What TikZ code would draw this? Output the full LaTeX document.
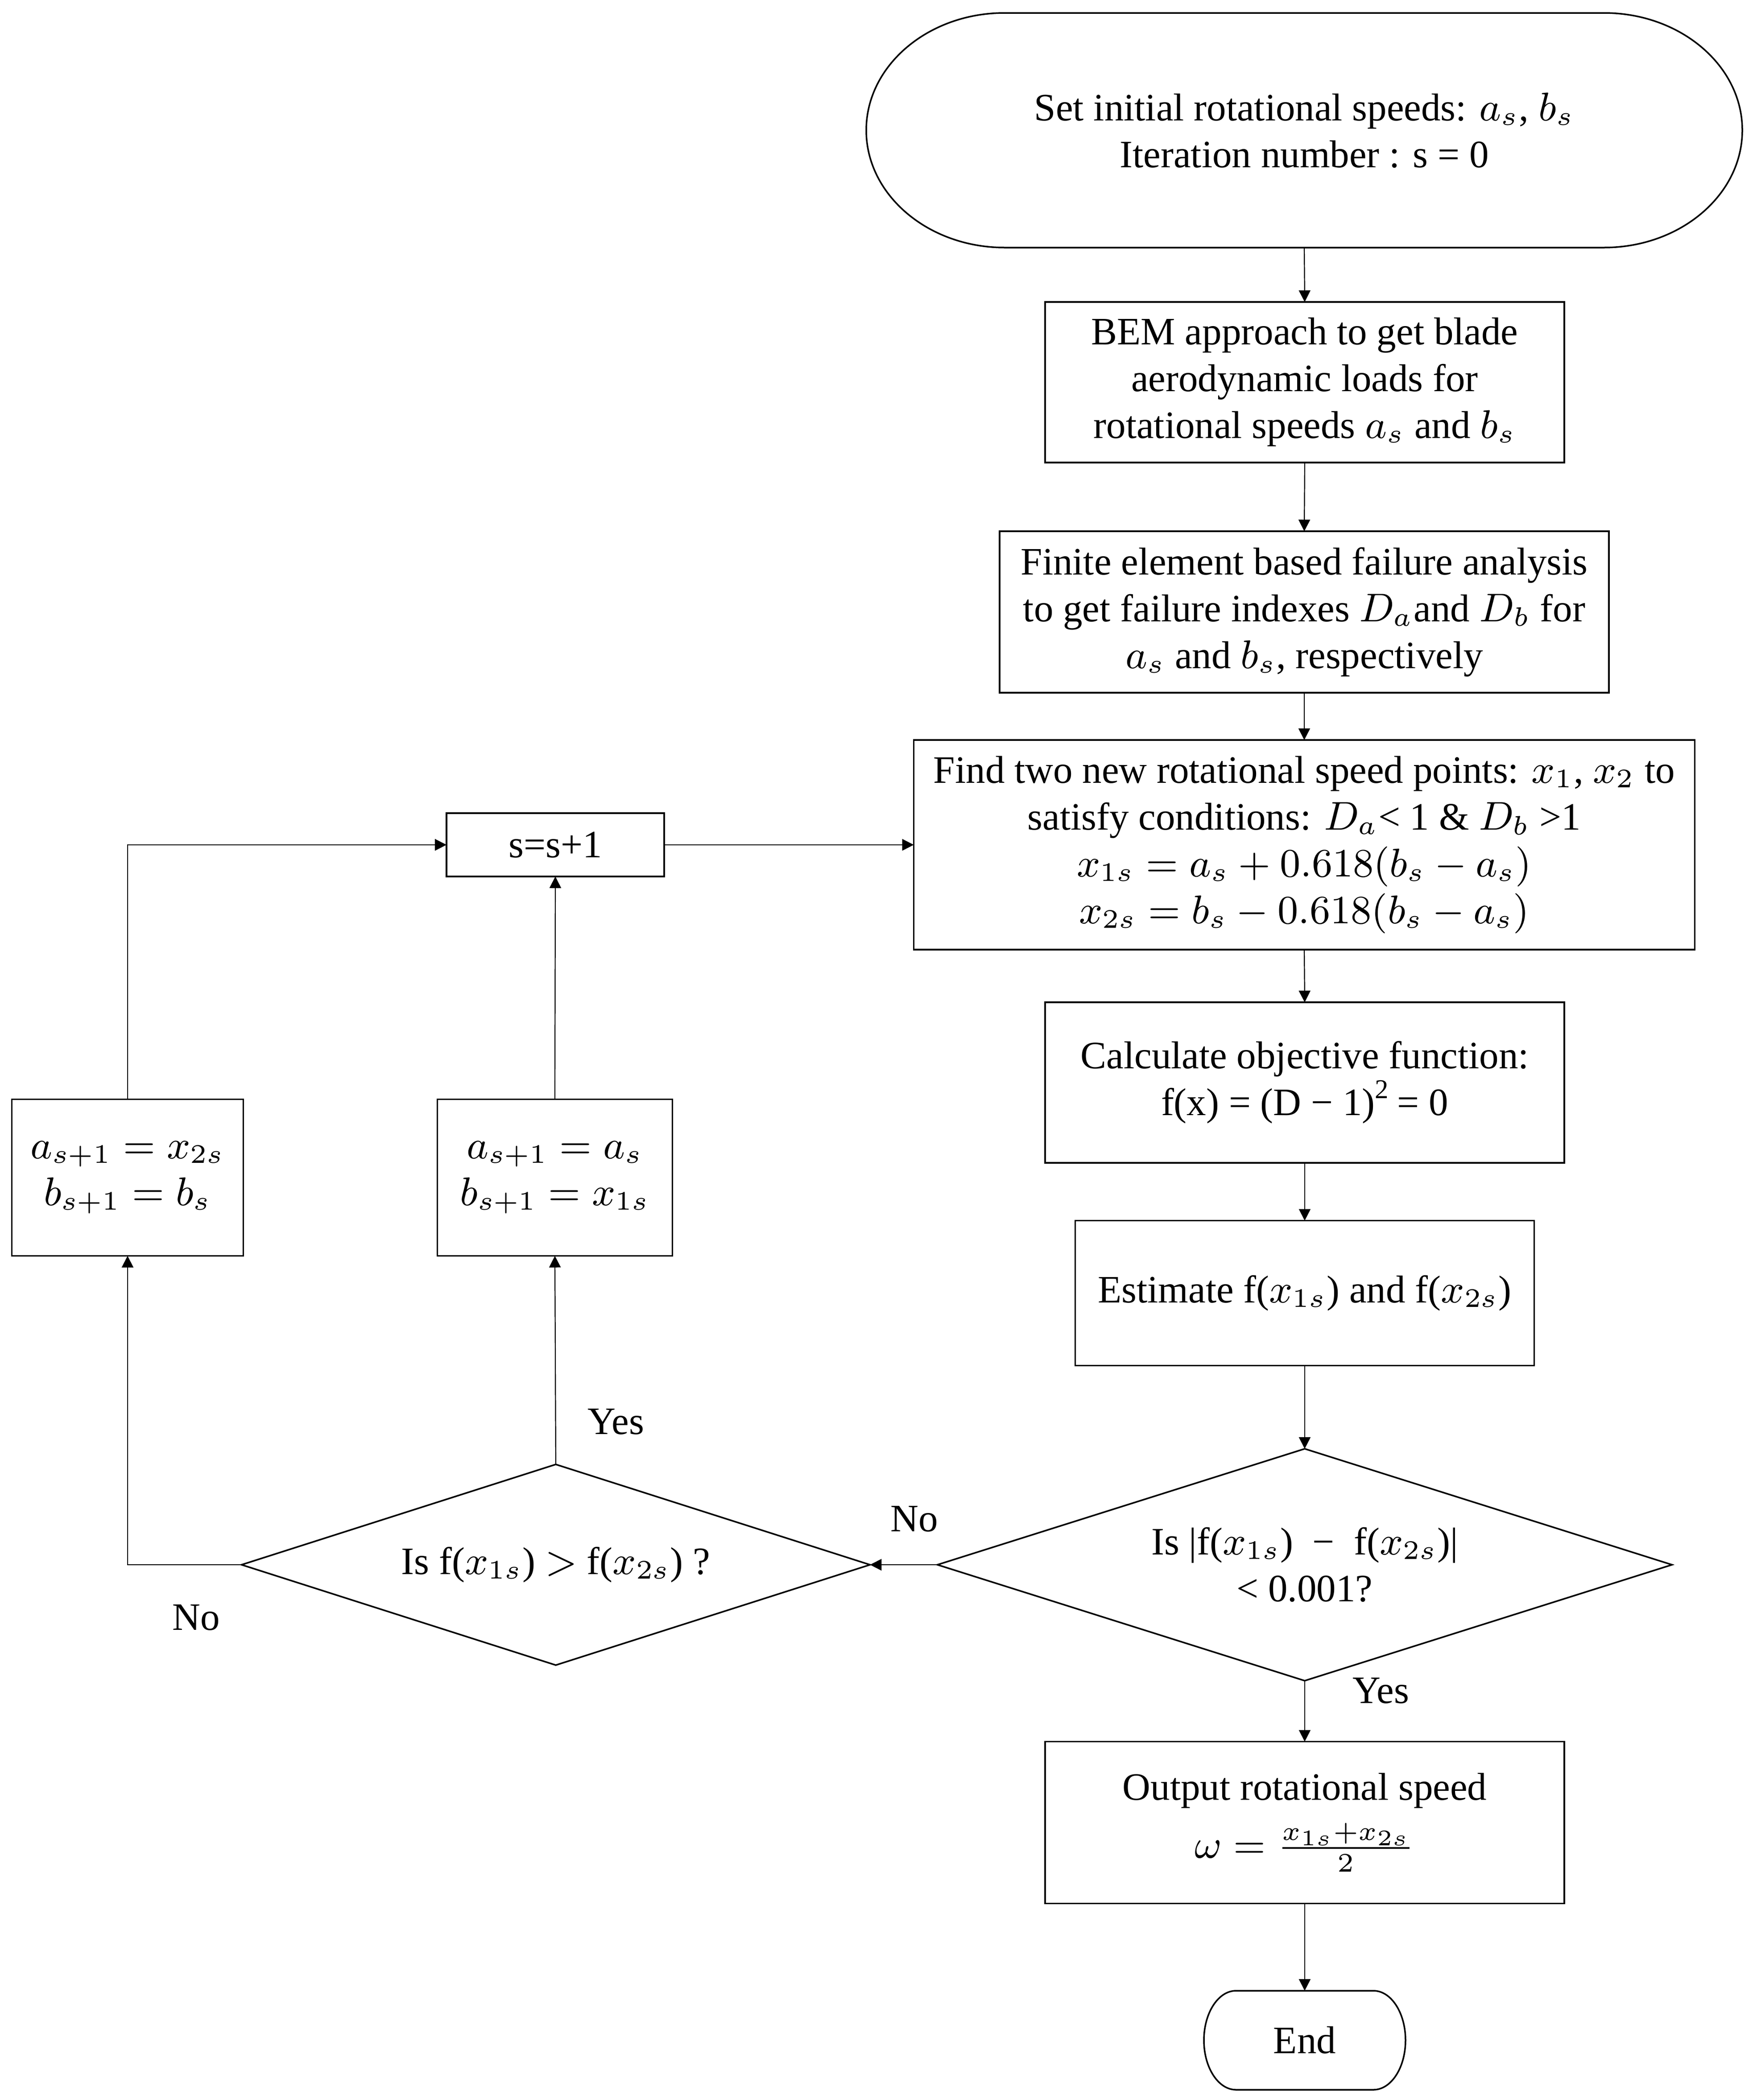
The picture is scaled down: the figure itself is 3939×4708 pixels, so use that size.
\documentclass[tikz,border=0pt]{standalone}
\usepackage{fontspec}
\setmainfont{Liberation Serif}
\usetikzlibrary{arrows.meta,shapes.geometric}
\begin{document}
\begin{tikzpicture}[x=0.1pt,y=-0.1pt,
  every node/.style={font=\fontsize{8.7pt}{10.5pt}\selectfont, inner sep=0pt, outer sep=0pt, align=center},
  box/.style={draw, line width=0.35pt, rectangle},
  plain/.style={rectangle},
  decision/.style={draw, line width=0.35pt, shape=diamond},
  outline/.style={line width=0.35pt},
  arr/.style={-{Triangle[length=2.6pt,width=2.6pt]}, line width=0.22pt},
  lbl/.style={}
]
\useasboundingbox (0,0) rectangle (3939,4708);

% start terminal
\node[plain, minimum width=196.4pt, minimum height=52.6pt] (start) at (2924,292)
  {Set initial rotational speeds: $a_s$, $b_s$\\Iteration number : s = 0};
\draw[outline] (2252,29) -- (3596,29)
  .. controls (3767,29) and (3906,147) .. (3906,292)
  .. controls (3906,437) and (3767,555) .. (3596,555)
  -- (2252,555)
  .. controls (2081,555) and (1942,437) .. (1942,292)
  .. controls (1942,147) and (2081,29) .. (2252,29) -- cycle;

\node[box, minimum width=116.4pt, minimum height=36pt] (bem) at (2925,857)
  {BEM approach to get blade\\aerodynamic loads for\\rotational speeds $a_s$ and $b_s$};
\node[box, minimum width=136.6pt, minimum height=36.2pt] (fe) at (2924,1372)
  {Finite element based failure analysis\\to get failure indexes $D_a$and $D_b$ for\\$a_s$ and $b_s$, respectively};
\node[box, minimum width=175.1pt, minimum height=47pt] (find) at (2924,1894)
  {Find two new rotational speed points: $x_1$, $x_2$ to\\satisfy conditions: $D_a$< 1 \& $D_b$ >1\\$x_{1s} = a_s + 0.618(b_s - a_s)$\\$x_{2s} = b_s - 0.618(b_s - a_s)$};
\node[box, minimum width=116.4pt, minimum height=36pt] (calc) at (2925,2427)
  {Calculate objective function:\\f(x) = (D − 1)\textsuperscript{2}\,= 0};
\node[box, minimum width=102.9pt, minimum height=32.5pt] (est) at (2925,2899)
  {Estimate f($x_{1s}$) and f($x_{2s}$)};
\node[decision, aspect=3.17, minimum width=164.7pt, minimum height=52pt] (d1) at (2925,3508)
  {Is |f($x_{1s}$)\enspace−\enspace f($x_{2s}$)|\\< 0.001?};
\node[box, minimum width=116.4pt, minimum height=36.3pt] (out) at (2925,4086)
  {Output rotational speed\\[2.5pt]$\omega = \frac{x_{1s}+x_{2s}}{2}$};

% end terminal
\node[plain, minimum width=45.2pt, minimum height=22.2pt] (end) at (2925,4574) {End};
\draw[outline] (2771,4463) -- (3079,4463)
  .. controls (3119,4463) and (3151,4513) .. (3151,4574)
  .. controls (3151,4635) and (3119,4685) .. (3079,4685)
  -- (2771,4685)
  .. controls (2731,4685) and (2699,4635) .. (2699,4574)
  .. controls (2699,4513) and (2731,4463) .. (2771,4463) -- cycle;

% left part
\node[decision, aspect=3.13, minimum width=140.9pt, minimum height=45pt] (d2) at (1246,3508)
  {Is f($x_{1s}$) $>$ f($x_{2s}$) ?};
\node[box, minimum width=48.8pt, minimum height=14.2pt] (inc) at (1245,1894) {s=s+1};
\node[box, minimum width=51.9pt, minimum height=35.1pt] (left) at (286,2640)
  {$a_{s+1} = x_{2s}$\\$b_{s+1} = b_s$};
\node[box, minimum width=52.7pt, minimum height=35.1pt] (mid) at (1244,2640)
  {$a_{s+1} = a_s$\\$b_{s+1} = x_{1s}$};

% labels
\node[lbl] (yes2) at (1381,3187) {Yes};
\node[lbl] (no1) at (2050,3405) {No};
\node[lbl] (no2) at (440,3626) {No};
\node[lbl] (yes1) at (3096,3790) {Yes};

% connectors
\draw[arr] (start.south) -- (bem.north);
\draw[arr] (bem.south) -- (fe.north);
\draw[arr] (fe.south) -- (find.north);
\draw[arr] (find.south) -- (calc.north);
\draw[arr] (calc.south) -- (est.north);
\draw[arr] (est.south) -- (d1.north);
\draw[arr] (d1.south) -- (out.north);
\draw[arr] (out.south) -- (end.north);
\draw[arr] (d1.west) -- (d2.east);
\draw[arr] (d2.north) -- (mid.south);
\draw[arr] (d2.west) -| (left.south);
\draw[arr] (mid.north) -- (inc.south);
\draw[arr] (left.north) |- (inc.west);
\draw[arr] (inc.east) -- (find.west);
\end{tikzpicture}
\end{document}
